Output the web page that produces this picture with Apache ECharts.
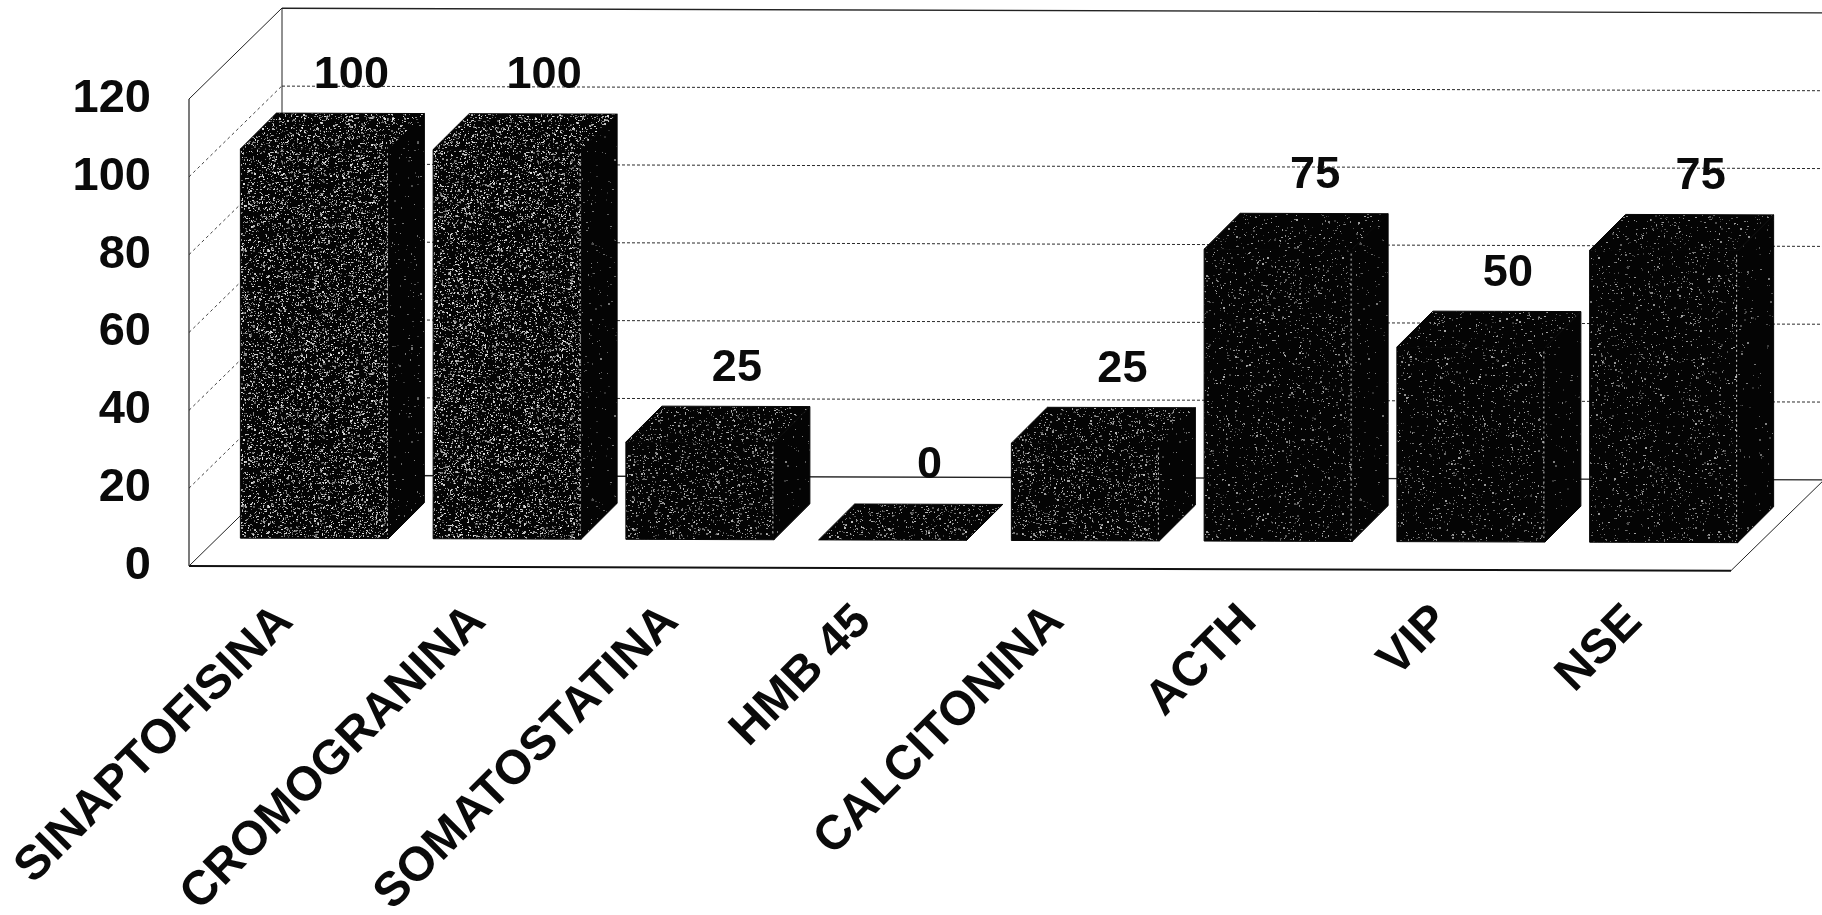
<!DOCTYPE html>
<html>
<head>
<meta charset="utf-8">
<style>
  html, body { margin: 0; padding: 0; background: #fff; }
  #chart { width: 1822px; height: 915px; }
</style>
<script src="https://cdn.jsdelivr.net/npm/echarts@6/dist/echarts.min.js"></script>
</head>
<body>
<div id="chart"></div>
<script>
// Immunohistochemical markers and the share of positive cases
const categories = ['SINAPTOFISINA', 'CROMOGRANINA', 'SOMATOSTATINA', 'HMB 45', 'CALCITONINA', 'ACTH', 'VIP', 'NSE'];
const positives = [100, 100, 25, 0, 25, 75, 50, 75];
const yTicks = [0, 20, 40, 60, 80, 100, 120];

const FONT = '"Liberation Sans", Arial, sans-serif';
const INK = '#0a0a0a';

// Oblique projection of the box: depth of the walls, gap before a bar, depth of a bar
const WALL_DX = 93, WALL_DY = 91;
const BAR_GAP_X = 30, BAR_GAP_Y = 28, BAR_DEPTH = 36, BAR_WIDTH = 148;
const SLOPE = 0.003, ORIGIN_X = 189;

// Whole scene leans very slightly to the right
const lean = (x, y) => [x, y + (x - ORIGIN_X) * SLOPE];

// Halftone texture for the bar faces
function grain(density, seed, lo, hi) {
  const size = 256;
  const c = document.createElement('canvas');
  c.width = c.height = size;
  const ctx = c.getContext('2d');
  ctx.fillStyle = '#040404';
  ctx.fillRect(0, 0, size, size);
  let s = seed;
  const next = () => (s = (s * 1664525 + 1013904223) % 4294967296) / 4294967296;
  for (let y = 0; y < size; y++) {
    for (let x = 0; x < size; x++) {
      if (next() < density) {
        const g = lo + Math.floor(next() * (hi - lo));
        ctx.fillStyle = 'rgb(' + g + ',' + g + ',' + g + ')';
        ctx.fillRect(x, y, next() < 0.3 ? 2 : 1, next() < 0.2 ? 2 : 1);
      }
    }
  }
  return c;
}
const lightFace = { image: grain(0.14, 11, 70, 230), repeat: 'repeat' };
const midFace = { image: grain(0.08, 23, 60, 190), repeat: 'repeat' };
const darkFace = { image: grain(0.04, 37, 50, 170), repeat: 'repeat' };
const sideFace = { image: grain(0.012, 51, 40, 130), repeat: 'repeat' };

function seg(a, b, stroke, width, dash) {
  return {
    type: 'line',
    shape: { x1: a[0], y1: a[1], x2: b[0], y2: b[1] },
    style: { stroke: stroke, lineWidth: width, lineDash: dash || null, fill: null }
  };
}

function poly(points, fill) {
  return { type: 'polygon', shape: { points: points }, style: { fill: fill, stroke: '#050505', lineWidth: 1 } };
}

// Floor, side wall and back wall, one set of lines per y tick
function renderWalls(params, api) {
  const v = api.value(0);
  const p = api.coord([0, v]);
  const left = p[0] - api.size([1, 0])[0] / 2;
  const y = p[1];
  const farRight = api.getWidth() + 2;
  const frontRight = left + api.size([1, 0])[0] * categories.length;
  const backLeft = [left + WALL_DX, y - WALL_DY];
  const backRight = lean(farRight, y - WALL_DY);
  const edge = v === 0 || v === 120;
  const children = [
    seg([left, y], backLeft, edge ? '#222' : '#444', 1, edge ? null : [3, 3]),
    seg(lean(backLeft[0], backLeft[1]), backRight, edge ? '#222' : '#2a2a2a', edge ? 1.4 : 1, edge ? null : [3, 2])
  ];
  if (v === 0) {
    children.push(seg([left, y], lean(frontRight, y), '#111', 2));
    children.push(seg(lean(frontRight, y), backRight, '#222', 1));
  }
  if (v === 120) {
    const bottom = api.coord([0, 0])[1];
    children.push(seg([left, y], [left, bottom], '#222', 1.2));
    children.push(seg(backLeft, [backLeft[0], bottom - WALL_DY], '#222', 1));
  }
  return { type: 'group', children: children };
}

// One oblique bar with its value above the far edge of the top face
function renderBar(params, api) {
  const i = params.dataIndex;
  const val = api.value(1);
  const top = api.coord([api.value(0), val]);
  const base = api.coord([api.value(0), 0]);
  const x0 = top[0] + BAR_GAP_X - 75;
  const x1 = x0 + BAR_WIDTH;
  const yT = top[1] - BAR_GAP_Y;
  const yB = base[1] - BAR_GAP_Y;
  const d = BAR_DEPTH;
  const face = i < 2 ? lightFace : i < 5 ? midFace : darkFace;
  const tl = lean(x0, yT), tr = lean(x1, yT), bl = lean(x0, yB), br = lean(x1, yB);
  const tr2 = lean(x1 + d, yT - d), tl2 = lean(x0 + d, yT - d), br2 = lean(x1 + d, yB - d);
  const children = [
    poly([tr, tr2, br2, br], sideFace),
    poly([tl, tl2, tr2, tr], face)
  ];
  if (val > 0) {
    children.push(poly([tl, tr, br, bl], face));
    children.push(seg([tr[0] - 1, tr[1] + 4], [br[0] - 1, br[1] - 4], '#ccc', 1, [2, 3]));
  }
  children.push({
    type: 'text',
    style: {
      text: String(val),
      x: (tl2[0] + tr2[0]) / 2 + 1,
      y: tl2[1] - 38,
      align: 'center',
      verticalAlign: 'middle',
      fill: INK,
      font: 'bold 45px ' + FONT
    }
  });
  return { type: 'group', children: children };
}

const chart = echarts.init(document.getElementById('chart'), null, { renderer: 'canvas' });
chart.setOption({
  animation: false,
  backgroundColor: '#ffffff',
  grid: { left: 189, right: 91, top: 99, bottom: 349, containLabel: false, outerBoundsMode: 'none' },
  xAxis: {
    type: 'category',
    data: categories,
    axisLine: { show: false },
    axisTick: { show: false },
    splitLine: { show: false },
    axisLabel: {
      interval: 0,
      rotate: 45,
      margin: 48,
      padding: [16, 0, 0, 0],
      color: INK,
      fontFamily: FONT,
      fontWeight: 'bold',
      fontSize: 48
    }
  },
  yAxis: {
    type: 'value',
    min: 0,
    max: 120,
    interval: 20,
    axisLine: { show: false },
    axisTick: { show: false },
    splitLine: { show: false },
    axisLabel: {
      margin: 38,
      padding: [11, 0, 0, 0],
      color: INK,
      fontFamily: FONT,
      fontWeight: 'bold',
      fontSize: 47
    }
  },
  series: [
    {
      type: 'custom',
      name: 'walls',
      silent: true,
      clip: false,
      z: 1,
      renderItem: renderWalls,
      encode: { y: 0 },
      data: yTicks.map(v => [v])
    },
    {
      type: 'custom',
      name: 'positive',
      silent: true,
      clip: false,
      z: 2,
      renderItem: renderBar,
      encode: { x: 0, y: 1 },
      data: categories.map((c, i) => [c, positives[i]])
    }
  ]
});
</script>
</body>
</html>
